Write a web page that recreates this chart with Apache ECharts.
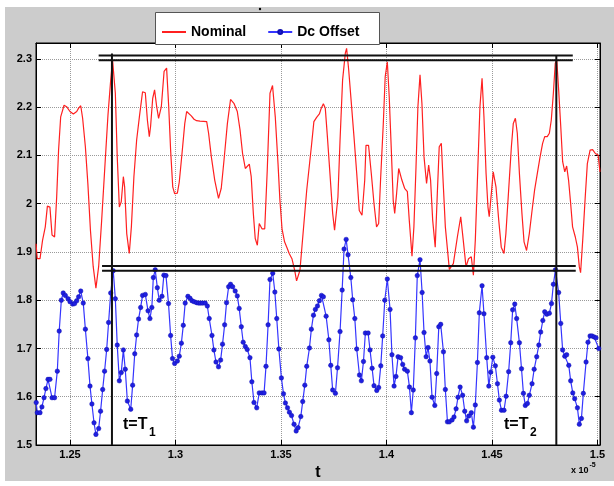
<!DOCTYPE html>
<html>
<head>
<meta charset="utf-8">
<script src="https://cdn.jsdelivr.net/npm/echarts@6.0.0/dist/echarts.min.js"></script>
<style>
  html, body { margin: 0; padding: 0; background: #fff; }
  #frame { position: absolute; left: 5px; top: 7px; width: 609px; height: 474px; background: #cccccc; }
  #chart { position: absolute; left: 0; top: 0; width: 614px; height: 486px; }
</style>
</head>
<body>
<div id="frame"></div>
<div id="chart"></div>
<script>
// tick positions (t in units of 1e-5)
var xTicks = [1.25, 1.3, 1.35, 1.4, 1.45, 1.5];
var yTicks = [1.5, 1.6, 1.7, 1.8, 1.9, 2, 2.1, 2.2, 2.3];

// red curve, read at its corners
var nominal = [
  [1.2339, 1.917], [1.2345, 1.886], [1.2358, 1.886], [1.2370, 1.924], [1.2383, 1.952],
  [1.2393, 1.995], [1.2405, 1.993], [1.2415, 1.935], [1.2427, 1.931], [1.2437, 2.014],
  [1.2446, 2.111], [1.2456, 2.180], [1.2472, 2.204], [1.2484, 2.201], [1.2500, 2.191],
  [1.2516, 2.186], [1.2532, 2.191], [1.2541, 2.198], [1.2551, 2.203], [1.2560, 2.177],
  [1.2573, 2.118], [1.2585, 2.040], [1.2597, 1.945], [1.2610, 1.870], [1.2623, 1.825],
  [1.2636, 1.870], [1.2650, 1.964], [1.2665, 2.074], [1.2680, 2.183], [1.2693, 2.256],
  [1.2702, 2.297], [1.2715, 2.229], [1.2724, 2.097], [1.2734, 1.993], [1.2743, 2.004],
  [1.2753, 2.056], [1.2759, 2.035], [1.2769, 1.938], [1.2781, 1.897], [1.2791, 1.952],
  [1.2803, 2.056], [1.2816, 2.132], [1.2829, 2.180], [1.2844, 2.232], [1.2857, 2.230],
  [1.2867, 2.173], [1.2876, 2.139], [1.2882, 2.160], [1.2892, 2.218], [1.2901, 2.236],
  [1.2911, 2.201], [1.2920, 2.177], [1.2933, 2.201], [1.2946, 2.274], [1.2958, 2.281],
  [1.2968, 2.201], [1.2977, 2.111], [1.2987, 2.035], [1.2996, 2.021], [1.3009, 2.022],
  [1.3018, 2.045], [1.3031, 2.104], [1.3044, 2.166], [1.3053, 2.191], [1.3062, 2.193],
  [1.3075, 2.182], [1.3088, 2.175], [1.3100, 2.172], [1.3116, 2.171], [1.3148, 2.170],
  [1.3157, 2.146], [1.3170, 2.097], [1.3186, 2.049], [1.3204, 2.011], [1.3217, 2.032],
  [1.3230, 2.090], [1.3246, 2.166], [1.3261, 2.216], [1.3277, 2.208], [1.3293, 2.191],
  [1.3306, 2.153], [1.3318, 2.104], [1.3331, 2.073], [1.3340, 2.071], [1.3350, 2.082],
  [1.3359, 2.056], [1.3369, 1.980], [1.3378, 1.928], [1.3388, 1.914], [1.3397, 1.959],
  [1.3410, 1.948], [1.3423, 1.948], [1.3435, 2.070], [1.3448, 2.229], [1.3460, 2.245],
  [1.3473, 2.180], [1.3486, 2.083], [1.3495, 2.007], [1.3505, 1.948], [1.3517, 1.921],
  [1.3530, 1.907], [1.3539, 1.897], [1.3552, 1.886], [1.3565, 1.862], [1.3574, 1.840],
  [1.3590, 1.862], [1.3622, 2.028], [1.3644, 2.118], [1.3656, 2.170], [1.3669, 2.179],
  [1.3682, 2.186], [1.3691, 2.198], [1.3701, 2.207], [1.3710, 2.198], [1.3720, 2.139],
  [1.3732, 2.063], [1.3745, 1.980], [1.3754, 1.945], [1.3761, 1.942], [1.3770, 2.014],
  [1.3780, 2.132], [1.3792, 2.256], [1.3805, 2.312], [1.3811, 2.322], [1.3821, 2.277],
  [1.3833, 2.211], [1.3846, 2.139], [1.3859, 2.063], [1.3871, 1.986], [1.3884, 1.976],
  [1.3897, 2.049], [1.3903, 2.121], [1.3915, 2.121], [1.3928, 2.063], [1.3941, 2.000],
  [1.3953, 1.952], [1.3963, 1.959], [1.3972, 2.049], [1.3985, 2.166], [1.3994, 2.263],
  [1.4004, 2.294], [1.4013, 2.222], [1.4023, 2.111], [1.4032, 2.007], [1.4039, 1.980],
  [1.4048, 2.021], [1.4058, 2.073], [1.4073, 2.049], [1.4086, 2.032], [1.4099, 2.025],
  [1.4108, 1.966], [1.4121, 1.891], [1.4130, 1.952], [1.4140, 2.076], [1.4149, 2.201],
  [1.4159, 2.267], [1.4168, 2.208], [1.4178, 2.097], [1.4190, 2.042], [1.4200, 2.080],
  [1.4209, 2.049], [1.4219, 1.966], [1.4231, 1.910], [1.4241, 2.021], [1.4250, 2.118],
  [1.4260, 2.125], [1.4269, 2.042], [1.4279, 1.952], [1.4298, 1.864], [1.4317, 1.876],
  [1.4336, 1.931], [1.4352, 1.973], [1.4364, 1.924], [1.4377, 1.869], [1.4389, 1.886],
  [1.4402, 1.890], [1.4412, 1.852], [1.4421, 1.924], [1.4431, 2.049], [1.4443, 2.201],
  [1.4453, 2.260], [1.4462, 2.180], [1.4472, 2.063], [1.4481, 1.993], [1.4487, 1.973],
  [1.4497, 2.021], [1.4506, 2.066], [1.4519, 2.035], [1.4532, 1.966], [1.4544, 1.910],
  [1.4557, 1.897], [1.4566, 1.938], [1.4579, 2.028], [1.4592, 2.118], [1.4601, 2.166],
  [1.4611, 2.177], [1.4620, 2.146], [1.4630, 2.063], [1.4642, 1.980], [1.4652, 1.921],
  [1.4664, 1.903], [1.4677, 1.938], [1.4690, 1.986], [1.4702, 2.028], [1.4715, 2.063],
  [1.4728, 2.097], [1.4740, 2.125], [1.4750, 2.139], [1.4762, 2.139], [1.4772, 2.146],
  [1.4781, 2.173], [1.4791, 2.229], [1.4800, 2.291], [1.4807, 2.298], [1.4816, 2.236],
  [1.4826, 2.160], [1.4835, 2.087], [1.4845, 2.066], [1.4854, 2.078], [1.4863, 2.049],
  [1.4873, 2.000], [1.4882, 1.952], [1.4895, 1.931], [1.4905, 1.910], [1.4914, 1.869],
  [1.4920, 1.857], [1.4930, 1.924], [1.4942, 2.014], [1.4952, 2.083], [1.4965, 2.111],
  [1.4977, 2.112], [1.4990, 2.104], [1.5003, 2.101], [1.5012, 2.066]
];

// blue curve, one pair per marker
var dcOffset = [
  [1.2340, 1.588], [1.2345, 1.567], [1.2358, 1.567], [1.2367, 1.579], [1.2377, 1.598],
  [1.2386, 1.617], [1.2396, 1.636], [1.2405, 1.636], [1.2415, 1.598], [1.2427, 1.598],
  [1.2440, 1.653], [1.2449, 1.736], [1.2459, 1.800], [1.2468, 1.815], [1.2478, 1.810],
  [1.2491, 1.803], [1.2500, 1.797], [1.2513, 1.792], [1.2522, 1.793], [1.2532, 1.799],
  [1.2541, 1.807], [1.2551, 1.819], [1.2563, 1.794], [1.2573, 1.740], [1.2585, 1.679],
  [1.2595, 1.622], [1.2604, 1.585], [1.2614, 1.546], [1.2623, 1.522], [1.2636, 1.534],
  [1.2645, 1.570], [1.2655, 1.615], [1.2664, 1.653], [1.2674, 1.698], [1.2683, 1.754],
  [1.2693, 1.815], [1.2705, 1.861], [1.2715, 1.803], [1.2724, 1.707], [1.2734, 1.633],
  [1.2743, 1.650], [1.2753, 1.697], [1.2762, 1.657], [1.2772, 1.591], [1.2788, 1.574],
  [1.2797, 1.624], [1.2807, 1.689], [1.2816, 1.728], [1.2825, 1.761], [1.2835, 1.785],
  [1.2844, 1.810], [1.2857, 1.812], [1.2870, 1.778], [1.2879, 1.762], [1.2888, 1.785],
  [1.2895, 1.847], [1.2904, 1.863], [1.2914, 1.826], [1.2923, 1.800], [1.2936, 1.808],
  [1.2945, 1.852], [1.2955, 1.851], [1.2967, 1.793], [1.2977, 1.727], [1.2986, 1.679],
  [1.2996, 1.669], [1.3009, 1.674], [1.3018, 1.684], [1.3028, 1.711], [1.3037, 1.748],
  [1.3046, 1.794], [1.3059, 1.808], [1.3069, 1.804], [1.3078, 1.799], [1.3088, 1.797],
  [1.3100, 1.795], [1.3110, 1.794], [1.3119, 1.794], [1.3129, 1.794], [1.3141, 1.794],
  [1.3151, 1.788], [1.3160, 1.762], [1.3173, 1.727], [1.3182, 1.697], [1.3192, 1.672],
  [1.3204, 1.662], [1.3214, 1.676], [1.3223, 1.709], [1.3233, 1.749], [1.3242, 1.795],
  [1.3252, 1.828], [1.3261, 1.833], [1.3271, 1.828], [1.3283, 1.819], [1.3293, 1.809],
  [1.3302, 1.783], [1.3312, 1.745], [1.3321, 1.713], [1.3331, 1.704], [1.3340, 1.698],
  [1.3353, 1.681], [1.3362, 1.631], [1.3372, 1.588], [1.3385, 1.577], [1.3397, 1.608],
  [1.3410, 1.608], [1.3420, 1.608], [1.3429, 1.663], [1.3439, 1.749], [1.3448, 1.843],
  [1.3461, 1.856], [1.3471, 1.817], [1.3480, 1.762], [1.3490, 1.699], [1.3502, 1.639],
  [1.3512, 1.606], [1.3521, 1.587], [1.3531, 1.577], [1.3540, 1.568], [1.3550, 1.561],
  [1.3562, 1.543], [1.3572, 1.529], [1.3581, 1.536], [1.3594, 1.559], [1.3603, 1.590],
  [1.3613, 1.624], [1.3622, 1.663], [1.3635, 1.701], [1.3644, 1.740], [1.3654, 1.769],
  [1.3663, 1.781], [1.3673, 1.788], [1.3682, 1.799], [1.3692, 1.810], [1.3701, 1.807],
  [1.3714, 1.767], [1.3727, 1.718], [1.3736, 1.665], [1.3745, 1.614], [1.3758, 1.607],
  [1.3768, 1.660], [1.3780, 1.735], [1.3790, 1.821], [1.3799, 1.906], [1.3809, 1.926],
  [1.3818, 1.894], [1.3831, 1.847], [1.3840, 1.801], [1.3850, 1.762], [1.3859, 1.699],
  [1.3872, 1.645], [1.3881, 1.633], [1.3891, 1.673], [1.3900, 1.732], [1.3913, 1.732],
  [1.3922, 1.697], [1.3932, 1.659], [1.3941, 1.623], [1.3954, 1.613], [1.3963, 1.619],
  [1.3973, 1.664], [1.3982, 1.726], [1.3992, 1.800], [1.4004, 1.844], [1.4017, 1.781],
  [1.4026, 1.687], [1.4036, 1.622], [1.4045, 1.642], [1.4055, 1.683], [1.4067, 1.681],
  [1.4077, 1.667], [1.4086, 1.657], [1.4099, 1.653], [1.4109, 1.620], [1.4118, 1.567],
  [1.4127, 1.614], [1.4137, 1.722], [1.4146, 1.851], [1.4159, 1.884], [1.4169, 1.816],
  [1.4178, 1.733], [1.4188, 1.683], [1.4197, 1.702], [1.4206, 1.674], [1.4216, 1.599],
  [1.4229, 1.582], [1.4238, 1.648], [1.4248, 1.745], [1.4257, 1.750], [1.4270, 1.693],
  [1.4279, 1.615], [1.4289, 1.548], [1.4298, 1.548], [1.4311, 1.552], [1.4320, 1.558],
  [1.4330, 1.575], [1.4339, 1.599], [1.4349, 1.620], [1.4361, 1.603], [1.4371, 1.570],
  [1.4380, 1.550], [1.4390, 1.560], [1.4402, 1.567], [1.4412, 1.537], [1.4421, 1.583],
  [1.4431, 1.671], [1.4440, 1.774], [1.4453, 1.830], [1.4462, 1.772], [1.4475, 1.681],
  [1.4485, 1.622], [1.4494, 1.651], [1.4504, 1.682], [1.4516, 1.664], [1.4526, 1.627],
  [1.4535, 1.593], [1.4545, 1.572], [1.4557, 1.572], [1.4567, 1.601], [1.4579, 1.652],
  [1.4589, 1.712], [1.4598, 1.780], [1.4608, 1.792], [1.4617, 1.762], [1.4630, 1.712],
  [1.4640, 1.658], [1.4649, 1.607], [1.4658, 1.582], [1.4668, 1.586], [1.4677, 1.603],
  [1.4690, 1.627], [1.4700, 1.657], [1.4712, 1.683], [1.4722, 1.707], [1.4731, 1.734],
  [1.4741, 1.758], [1.4750, 1.776], [1.4760, 1.771], [1.4772, 1.773], [1.4782, 1.793],
  [1.4791, 1.833], [1.4801, 1.863], [1.4816, 1.816], [1.4826, 1.752], [1.4835, 1.697],
  [1.4845, 1.684], [1.4854, 1.687], [1.4864, 1.665], [1.4873, 1.633], [1.4883, 1.608],
  [1.4892, 1.596], [1.4905, 1.577], [1.4914, 1.543], [1.4924, 1.555], [1.4933, 1.607],
  [1.4946, 1.672], [1.4955, 1.713], [1.4965, 1.726], [1.4974, 1.726], [1.4984, 1.724],
  [1.4993, 1.722], [1.5006, 1.700]
];

// black marker lines: double horizontal levels and the two time cursors
var upperLevels = [2.307, 2.297];
var upperSpan = [1.2636, 1.4883];
var lowerLevels = [1.871, 1.861];
var lowerSpan = [1.2652, 1.4897];
var cursorTimes = [1.2699, 1.4805];
var cursorTops = [2.311, 2.307];

var font = 'Liberation Sans';
var myChart = echarts.init(document.getElementById('chart'));

var series = [
  {
    name: 'Nominal',
    type: 'line',
    data: nominal,
    symbol: 'none',
    lineStyle: { color: '#ff2020', width: 1.2 },
    itemStyle: { color: '#ff2020' },
    z: 3
  },
  {
    name: 'Dc Offset',
    type: 'line',
    data: dcOffset,
    symbol: 'circle',
    symbolSize: 4.5,
    lineStyle: { color: '#3535ff', width: 1.2 },
    itemStyle: { color: '#1f1fe0', borderColor: '#1010b0', borderWidth: 0.5 },
    z: 3
  }
];

function blackLine(points) {
  return {
    type: 'line',
    data: points,
    symbol: 'none',
    silent: true,
    lineStyle: { color: '#111', width: 2 },
    z: 5
  };
}
upperLevels.forEach(function (v) {
  series.push(blackLine([[upperSpan[0], v], [upperSpan[1], v]]));
});
lowerLevels.forEach(function (v) {
  series.push(blackLine([[lowerSpan[0], v], [lowerSpan[1], v]]));
});
cursorTimes.forEach(function (t, i) {
  series.push(blackLine([[t, cursorTops[i]], [t, 1.5]]));
});

var option = {
  animation: false,
  grid: {
    left: 36, right: 14, top: 43, bottom: 41,
    show: true, backgroundColor: '#fff', borderColor: '#000', borderWidth: 1
  },
  legend: {
    // red entry: line only, no dot
    data: [
      { name: 'Nominal', itemStyle: { opacity: 0 } },
      { name: 'Dc Offset' }
    ],
    left: 161, top: 25, padding: 0,
    itemWidth: 24, itemHeight: 5, itemGap: 21,
    textStyle: { fontFamily: font, fontWeight: 'bold', fontSize: 14, color: '#000' }
  },
  xAxis: [
    {
      type: 'value', min: 1.2339, max: 1.5012,
      name: 't', nameLocation: 'middle', nameGap: 19,
      nameTextStyle: { fontFamily: font, fontWeight: 'bold', fontSize: 16, color: '#000' },
      axisLine: { onZero: false, lineStyle: { color: '#000', width: 1 } },
      axisTick: { inside: true, length: 5, customValues: xTicks, lineStyle: { color: '#000' } },
      axisLabel: { customValues: xTicks, margin: 4, color: '#000', fontFamily: font, fontWeight: 'bold', fontSize: 11 },
      splitLine: { show: true, lineStyle: { type: 'dotted', color: '#9a9a9a', width: 1 } }
    },
    {
      type: 'value', min: 1.2339, max: 1.5012, position: 'top',
      axisLine: { onZero: false, lineStyle: { color: '#000', width: 1 } },
      axisTick: { inside: true, length: 5, customValues: xTicks, lineStyle: { color: '#000' } },
      axisLabel: { show: false },
      splitLine: { show: false }
    }
  ],
  yAxis: [
    {
      type: 'value', min: 1.5, max: 2.333,
      axisLine: { onZero: false, lineStyle: { color: '#000', width: 1 } },
      axisTick: { inside: true, length: 5, customValues: yTicks, lineStyle: { color: '#000' } },
      axisLabel: { customValues: yTicks, margin: 4, color: '#000', fontFamily: font, fontWeight: 'bold', fontSize: 11 },
      splitLine: { show: true, lineStyle: { type: 'dotted', color: '#9a9a9a', width: 1 } }
    },
    {
      type: 'value', min: 1.5, max: 2.333, position: 'right',
      axisLine: { onZero: false, lineStyle: { color: '#000', width: 1 } },
      axisTick: { inside: true, length: 5, customValues: yTicks, lineStyle: { color: '#000' } },
      axisLabel: { show: false },
      splitLine: { show: false }
    }
  ],
  graphic: [
    // legend box
    { type: 'rect', z: 1, shape: { x: 155.5, y: 12.5, width: 224, height: 32 },
      style: { fill: '#fff', stroke: '#555', lineWidth: 1 } },
    // small dot above the plot
    { type: 'circle', z: 1, shape: { cx: 260, cy: 9, r: 1.2 }, style: { fill: '#000' } },
    // cursor labels
    { type: 'text', z: 6, x: 123, y: 425,
      style: { text: 't=T', font: 'bold 16px ' + font, fill: '#000', verticalAlign: 'middle' } },
    { type: 'text', z: 6, x: 149, y: 433,
      style: { text: '1', font: 'bold 12px ' + font, fill: '#000', verticalAlign: 'middle' } },
    { type: 'text', z: 6, x: 504, y: 425,
      style: { text: 't=T', font: 'bold 16px ' + font, fill: '#000', verticalAlign: 'middle' } },
    { type: 'text', z: 6, x: 530, y: 433,
      style: { text: '2', font: 'bold 12px ' + font, fill: '#000', verticalAlign: 'middle' } },
    // axis exponent
    { type: 'text', z: 6, x: 571, y: 471,
      style: { text: 'x 10', font: 'bold 9px ' + font, fill: '#000', verticalAlign: 'middle' } },
    { type: 'text', z: 6, x: 589.5, y: 465.5,
      style: { text: '-5', font: 'bold 7px ' + font, fill: '#000', verticalAlign: 'middle' } }
  ],
  series: series
};

myChart.setOption(option);
window.addEventListener('resize', function () {
  myChart.resize();
});
</script>
</body>
</html>
